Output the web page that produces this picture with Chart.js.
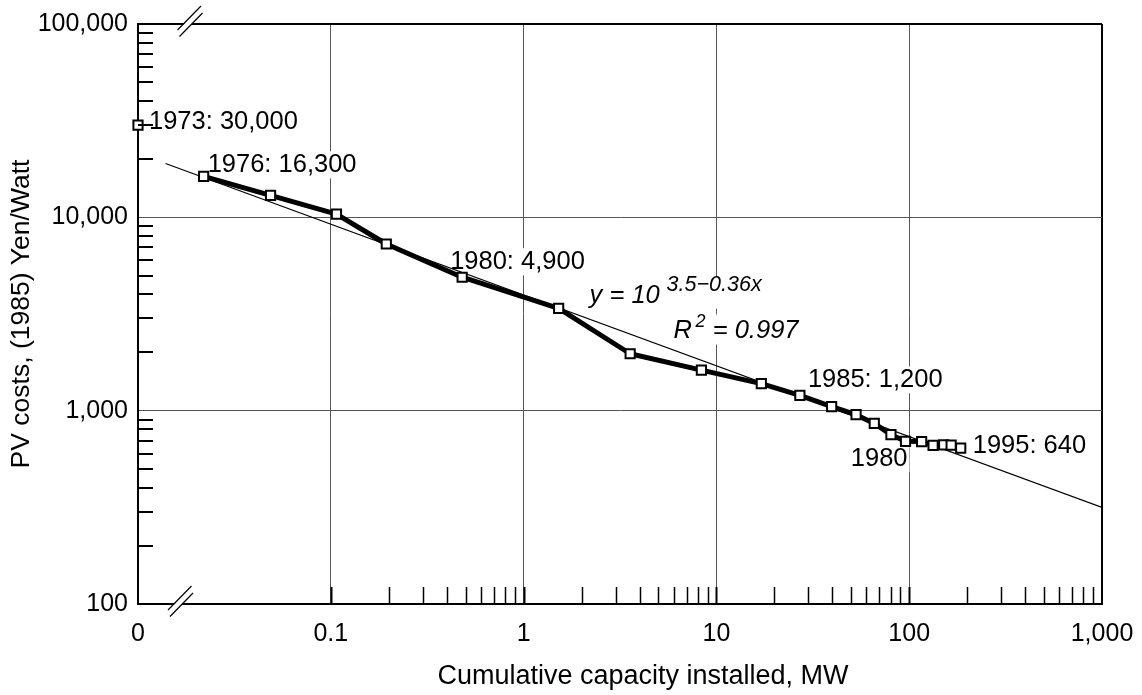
<!DOCTYPE html>
<html>
<head>
<meta charset="utf-8">
<script src="https://cdn.jsdelivr.net/npm/chart.js@4.4.1/dist/chart.umd.min.js"></script>
<style>
  html, body { margin: 0; padding: 0; background: #fff; }
</style>
</head>
<body>
<canvas id="pvChart" width="1142" height="695"></canvas>
<script>
// Japanese PV module costs against cumulative installed capacity (log-log)
const capacityMW = [0.0219, 0.0487, 0.107, 0.194, 0.48, 1.52, 3.57, 8.36, 17.1, 27.1,
                    39.6, 53, 65.9, 80.4, 95.7, 116, 133, 151, 165, 185];
const costYenPerW = [16300, 13000, 10400, 7280, 4900, 3380, 1970, 1620, 1380, 1200,
                     1050, 953, 859, 751, 694, 692, 661, 665, 663, 640];
const startCapacity = [0.01];   // drawn at the "0" end of the broken axis
const startCost = [30000];
const fitX = [0.0139, 1000];
const fitY = [19000, 316];
const xTicks = [0.01, 0.1, 1, 10, 100, 1000];
const yTicks = [100, 1000, 10000, 100000];

const FONT = '"Liberation Sans", Arial, Helvetica, sans-serif';

function pts(xs, ys) { return xs.map((x, i) => ({ x: x, y: ys[i] })); }

// labels hung off data points: [text, x value, y value, dx, dy, align]
const notes = [
  ['1973: 30,000', startCapacity[0], startCost[0], 11, 4, 'left'],
  ['1976: 16,300', capacityMW[0], costYenPerW[0], 4, -4, 'left'],
  ['1980: 4,900', capacityMW[4], costYenPerW[4], -12, -8, 'left'],
  ['1985: 1,200', capacityMW[9], costYenPerW[9], 8, -8, 'left'],
  ['1980', capacityMW[14], costYenPerW[14], 2, 25, 'right'],
  ['1995: 640', capacityMW[19], costYenPerW[19], 12, 5, 'left']
];

const framePlugin = {
  id: 'frame',
  beforeDatasetsDraw(chart) {
    const ctx = chart.ctx, xs = chart.scales.x, ys = chart.scales.y;
    ctx.save();
    ctx.font = '25.5px ' + FONT;
    ctx.textBaseline = 'alphabetic';
    notes.forEach(n => {
      const px = xs.getPixelForValue(n[1]) + n[3];
      const py = ys.getPixelForValue(n[2]) + n[4];
      const w = ctx.measureText(n[0]).width;
      const left = n[5] === 'right' ? px - w : px;
      ctx.fillStyle = '#fff';
      ctx.fillRect(left - 2, py - 21, w + 4, 27);
      ctx.fillStyle = '#000';
      ctx.textAlign = n[5];
      ctx.fillText(n[0], px, py);
    });

    // regression equation
    const ex = xs.getPixelForValue(2.2), ey = ys.getPixelForValue(3620);
    ctx.textAlign = 'left';
    ctx.font = 'italic 25.5px ' + FONT;
    ctx.fillStyle = '#fff';
    ctx.fillRect(ex - 2, ey - 26, 180, 32);
    ctx.fillRect(ex + 82, ey + 12, 134, 30);
    ctx.fillStyle = '#000';
    ctx.fillText('y = 10', ex, ey);
    ctx.font = 'italic 21.5px ' + FONT;
    ctx.fillText('3.5\u22120.36x', ex + 77, ey - 12);
    ctx.font = 'italic 25.5px ' + FONT;
    ctx.fillText('R', ex + 84, ey + 35);
    ctx.font = 'italic 18px ' + FONT;
    ctx.fillText('2', ex + 106, ey + 24);
    ctx.font = 'italic 25.5px ' + FONT;
    ctx.fillText(' = 0.997', ex + 116, ey + 35);
    ctx.restore();
  },
  afterDraw(chart) {
    const ctx = chart.ctx, xs = chart.scales.x, ys = chart.scales.y;
    const a = chart.chartArea;
    ctx.save();
    ctx.strokeStyle = '#000';

    // inner minor ticks on the bottom axis (none inside the broken decade)
    [0.1, 1, 10, 100].forEach(d => {
      for (let m = 1; m <= 9; m++) {
        const px = Math.round(xs.getPixelForValue(m * d)) + 0.5;
        ctx.lineWidth = m === 1 ? 2 : 1.5;
        ctx.beginPath();
        ctx.moveTo(px, a.bottom);
        ctx.lineTo(px, a.bottom - 17);
        ctx.stroke();
      }
    });
    // inner minor ticks on the left axis
    ctx.lineWidth = 2;
    [100, 1000, 10000].forEach(d => {
      for (let m = 2; m <= 9; m++) {
        const py = Math.round(ys.getPixelForValue(m * d));
        ctx.beginPath();
        ctx.moveTo(a.left, py);
        ctx.lineTo(a.left + 15, py);
        ctx.stroke();
      }
    });

    // axis break marks
    function breakMark(cx, cy) {
      ctx.fillStyle = '#fff';
      ctx.beginPath();
      ctx.moveTo(cx - 12, cy + 9);
      ctx.lineTo(cx + 12, cy - 15);
      ctx.lineTo(cx + 13, cy - 8);
      ctx.lineTo(cx - 11, cy + 16);
      ctx.closePath();
      ctx.fill();
      ctx.lineWidth = 1.2;
      ctx.beginPath();
      ctx.moveTo(cx - 12.5, cy + 9);
      ctx.lineTo(cx + 11, cy - 15);
      ctx.moveTo(cx - 10.5, cy + 15.5);
      ctx.lineTo(cx + 12.5, cy - 8);
      ctx.stroke();
    }
    breakMark(a.left + 52, a.top - 3);
    breakMark(a.left + 42.5, a.bottom - 3);

    // axis titles
    ctx.fillStyle = '#000';
    ctx.textAlign = 'center';
    ctx.textBaseline = 'middle';
    ctx.font = '27px ' + FONT;
    ctx.fillText('Cumulative capacity installed, MW', 643, 677);
    ctx.font = '26.5px ' + FONT;
    ctx.translate(22, (a.top + a.bottom) / 2);
    ctx.rotate(-Math.PI / 2);
    ctx.fillText('PV costs, (1985) Yen/Watt', 0, 0);
    ctx.restore();
  }
};

const markerStyle = {
  pointStyle: 'rect',
  pointRadius: 6.5,
  pointHoverRadius: 6.5,
  pointBackgroundColor: '#fff',
  pointBorderColor: '#000',
  pointBorderWidth: 2,
  clip: false
};

new Chart(document.getElementById('pvChart').getContext('2d'), {
  type: 'scatter',
  data: {
    datasets: [
      Object.assign({
        label: 'Cost',
        data: pts(capacityMW, costYenPerW),
        showLine: true,
        borderColor: '#000',
        borderWidth: 5,
        borderJoinStyle: 'round',
        order: 0
      }, markerStyle),
      Object.assign({
        label: '1973',
        data: pts(startCapacity, startCost),
        showLine: false,
        order: 1
      }, markerStyle),
      {
        label: 'Fit',
        data: pts(fitX, fitY),
        showLine: true,
        borderColor: '#000',
        borderWidth: 1.2,
        pointRadius: 0,
        order: 2
      }
    ]
  },
  options: {
    responsive: false,
    animation: false,
    layout: { padding: { top: 24, right: 40, left: 0, bottom: 0 } },
    plugins: { legend: { display: false }, tooltip: { enabled: false } },
    scales: {
      x: {
        type: 'logarithmic',
        min: 0.01,
        max: 1000,
        afterBuildTicks: s => { s.ticks = xTicks.map(v => ({ value: v, major: true })); },
        afterFit: s => { s.height = 91; s.paddingLeft = 0; s.paddingRight = 0; },
        grid: {
          drawTicks: false,
          color: c => (c.tick && c.tick.value === 1000 ? '#000' : '#555'),
          lineWidth: c => (c.tick && c.tick.value === 1000 ? 2 : 1)
        },
        border: { color: '#000', width: 2 },
        ticks: {
          padding: 15,
          color: '#000',
          font: { family: FONT, size: 25 },
          maxRotation: 0,
          autoSkip: false,
          callback: v => (v === 0.01 ? '0' : Number(v).toLocaleString('en-US'))
        }
      },
      y: {
        type: 'logarithmic',
        min: 100,
        max: 100000,
        afterBuildTicks: s => { s.ticks = yTicks.map(v => ({ value: v, major: true })); },
        afterFit: s => { s.width = 138; s.paddingTop = 0; s.paddingBottom = 0; },
        grid: {
          drawTicks: false,
          color: c => (c.tick && c.tick.value === 100000 ? '#000' : '#555'),
          lineWidth: c => (c.tick && c.tick.value === 100000 ? 2 : 1)
        },
        border: { color: '#000', width: 2 },
        ticks: {
          padding: 10,
          color: '#000',
          font: { family: FONT, size: 25 },
          autoSkip: false,
          callback: v => Number(v).toLocaleString('en-US')
        }
      }
    }
  },
  plugins: [framePlugin]
});
</script>
</body>
</html>
